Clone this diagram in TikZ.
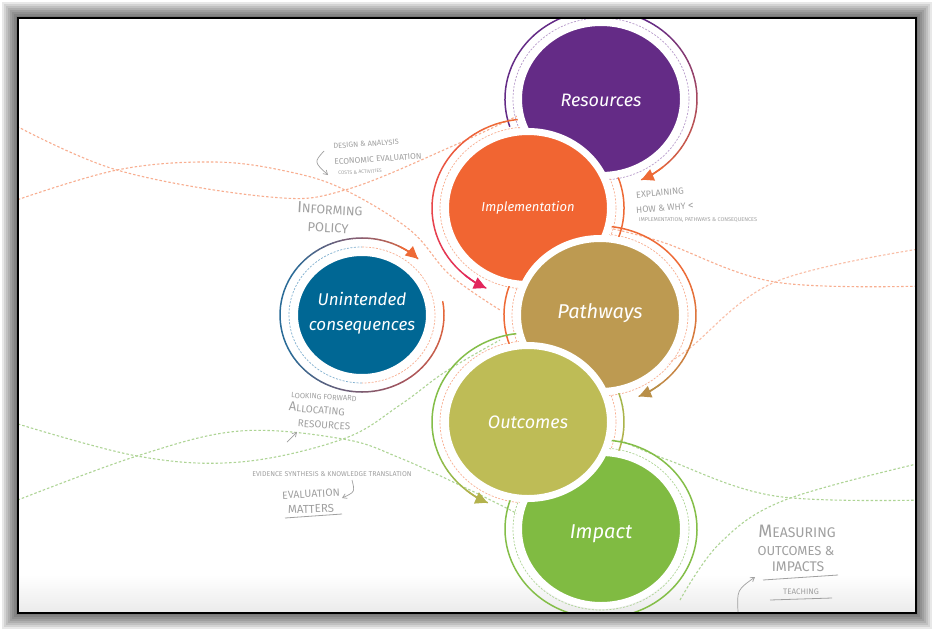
\documentclass[tikz,border=0pt]{standalone}
\usepackage{fontspec}
\setmainfont{Fira Sans}
\usetikzlibrary{arrows.meta,shapes.geometric}
\definecolor{cRes}{HTML}{642B86}
\definecolor{cImp}{HTML}{F16532}
\definecolor{cPat}{HTML}{BD9A51}
\definecolor{cOut}{HTML}{BEBC56}
\definecolor{cImpa}{HTML}{80BB42}
\definecolor{cUni}{HTML}{006794}
\definecolor{cCrim}{HTML}{E2265C}
\definecolor{cOra}{HTML}{EE6A36}
\definecolor{cTan}{HTML}{B98F48}
\definecolor{cOli}{HTML}{B3B24C}
\definecolor{cGrn}{HTML}{84BE48}
\definecolor{cBlu}{HTML}{2A6B97}
\definecolor{cRbr}{HTML}{A4545E}
\definecolor{cPbr}{HTML}{8B5C6F}
\definecolor{dOra}{HTML}{F8AE90}
\definecolor{dGrn}{HTML}{AED495}
\definecolor{dPur}{HTML}{B89BCB}
\definecolor{dBlu}{HTML}{7FAFCF}
\definecolor{note}{HTML}{A0A0A0}
\newcommand\nf[1]{\fontsize{#1}{#1}\selectfont}
% gradient arc: coord, rx, ry, start, end, col1, col2, segments
\newcommand\garc[8]{%
  \foreach \gi in {1,...,#8}{%
    \pgfmathsetmacro\ga{#4+(#5-(#4))*(\gi-1)/#8}%
    \pgfmathsetmacro\gb{#4+(#5-(#4))*\gi/#8}%
    \pgfmathtruncatemacro\gp{100*(\gi-0.5)/#8}%
    \draw[ring,#7!\gp!#6] (#1) ++(\ga:#2 and #3) arc[start angle=\ga,end angle=\gb,x radius=#2,y radius=#3];
  }}
% arrow tip on a ring: coord, rx, ry, from, to, colour
\newcommand\rtip[6]{%
  \draw[ring,#6,-{Triangle[length=12pt,width=12pt]}] (#1) ++(#4:#2 and #3) arc[start angle=#4,end angle=#5,x radius=#2,y radius=#3];}
\begin{document}
\begin{tikzpicture}[x=1pt,y=-1pt,
  ring/.style={line width=1.5pt,line cap=round},
  dring/.style={line width=0.7pt,dash pattern=on 2pt off 1.5pt},
  wave/.style={line width=1.1pt,dash pattern=on 2.5pt off 2pt},
  bub/.style={ellipse,inner sep=0pt,minimum width=165pt,minimum height=153pt,draw=white,line width=7pt},
  lbl/.style={text=white,inner sep=0pt,align=center,font=\itshape\nf{18}},
  note/.style={text=note,inner sep=0pt,align=center},
  narrow/.style={draw=note,line width=0.7pt,-{Straight Barb[length=4pt,width=5pt]}},
  nline/.style={draw=note,line width=0.8pt}]
\useasboundingbox (0,0) rectangle (934,632);
% shadow and frame
\foreach \d in {16,14,...,2} \fill[black,opacity=0.09] (18-\d,18-\d) rectangle (916+\d,613+\d);
\fill[white] (18,18) rectangle (916,613);
\shade[top color=white,bottom color=black!8] (18,575) rectangle (916,613);
\coordinate (cR) at (601,99);
\coordinate (cI) at (528,208);
\coordinate (cP) at (600,315);
\coordinate (cO) at (528,422);
\coordinate (cM) at (601,529);
\coordinate (cU) at (362,315);
\begin{scope}
\clip (18,18) rectangle (916,613);
% background waves
\draw[wave,dOra] plot[smooth,tension=0.6] coordinates {(5,120) (117,170) (270,197) (345,190) (455,145) (540,105)};
\draw[wave,dOra] plot[smooth,tension=0.6] coordinates {(5,204) (117,170) (215,162) (290,172) (345,190) (410,230) (450,275) (500,310)};
\draw[wave,dOra] plot[smooth,tension=0.6] coordinates {(600,226) (662,242) (775,282) (925,286)};
\draw[wave,dOra!80] plot[smooth,tension=0.6] coordinates {(640,380) (686,351) (775,282) (925,248)};
\draw[wave,dGrn] plot[smooth,tension=0.6] coordinates {(5,420) (137,456) (240,462) (343,439) (400,405) (445,372) (500,340)};
\draw[wave,dGrn] plot[smooth,tension=0.6] coordinates {(5,505) (137,456) (240,431) (343,439) (400,458) (470,490) (520,515)};
\draw[wave,dGrn] plot[smooth,tension=0.6] coordinates {(620,440) (668,460) (775,496) (925,500)};
\draw[wave,dGrn] plot[smooth,tension=0.6] coordinates {(680,600) (720,543) (785,500) (925,462)};
% dashed rings
\draw[dring,dPur] (cR) ellipse[x radius=88,y radius=81];
\draw[dring,dOra] (cI) ellipse[x radius=88,y radius=81];
\draw[dring,dOra] (cP) ellipse[x radius=88,y radius=81];
\draw[dring,dOra] (cO) ellipse[x radius=88,y radius=81];
\draw[dring,dGrn] (cM) ellipse[x radius=88,y radius=81];
\draw[dring,dBlu] (cU) ++(90:73 and 68) arc[start angle=90,end angle=270,x radius=73,y radius=68];
\draw[dring,dOra] (cU) ++(-90:73 and 68) arc[start angle=-90,end angle=90,x radius=73,y radius=68];
% solid rings
\garc{cR}{96}{89}{-198}{-60}{cRes}{cRes}{1}
\garc{cR}{96}{89}{-60}{65}{cRes}{cOra}{20}
\rtip{cR}{96}{89}{50}{65}{cOra}
\garc{cI}{96}{89}{20}{-110}{cOra}{cOra}{1}
\garc{cI}{96}{89}{-110}{-244}{cOra}{cCrim}{20}
\rtip{cI}{96}{89}{-229}{-244}{cCrim}
\garc{cP}{96}{89}{-205}{-30}{cOra}{cOra}{1}
\garc{cP}{96}{89}{-30}{66}{cOra}{cTan}{14}
\rtip{cP}{96}{89}{51}{66}{cTan}
\garc{cO}{96}{89}{20}{-100}{cOli}{cGrn}{8}
\garc{cO}{96}{89}{-100}{-195}{cGrn}{cGrn}{1}
\garc{cO}{96}{89}{-195}{-245}{cGrn}{cOli}{8}
\rtip{cO}{96}{89}{-230}{-245}{cOli}
\garc{cM}{96}{89}{-95}{200}{cGrn}{cGrn}{1}
\garc{cU}{82}{77}{-10}{60}{cOra}{cRbr}{10}
\garc{cU}{82}{77}{60}{150}{cRbr}{cBlu}{12}
\garc{cU}{82}{77}{150}{215}{cBlu}{cBlu}{1}
\garc{cU}{82}{77}{215}{270}{cBlu}{cPbr}{8}
\garc{cU}{82}{77}{270}{313}{cPbr}{cOra}{8}
\rtip{cU}{82}{77}{298}{313}{cOra}
% circles
\node[bub,fill=cRes] (res) at (cR) {};
\node[lbl] (resT) at (601,100) {Resources};
\node[bub,fill=cImp] (imp) at (cI) {};
\node[lbl,font=\itshape\nf{13}] (impT) at (528,208) {Implementation};
\node[bub,fill=cPat] (pat) at (cP) {};
\node[lbl,font=\itshape\nf{20}] (patT) at (600,313) {Pathways};
\node[bub,fill=cImpa] (ipa) at (cM) {};
\node[lbl,font=\itshape\nf{20}] (ipaT) at (601,534) {Impact};
\node[bub,fill=cOut] (out) at (cO) {};
\node[lbl] (outT) at (528,422) {Outcomes};
\node[bub,fill=cUni,minimum width=135pt,minimum height=125pt] (uni) at (cU) {};
\node[lbl,font=\itshape\nf{17}] (uniT) at (362,313) {Unintended\\[8pt]consequences};
\end{scope}
\draw[line width=2.5pt] (18,18) rectangle (916,613);
% notes
\node[note,rotate=4,font=\nf{7.5}] (n1) at (366,144) {DESIGN \& ANALYSIS};
\node[note,rotate=4,font=\nf{8.3}] (n2) at (378,159) {ECONOMIC EVALUATION};
\node[note,rotate=3,font=\nf{5}] (n3) at (360,172) {COSTS \& ACTIVITIES};
\coordinate (a1s) at (324,151);
\coordinate (a1e) at (328,175);
\draw[narrow] (a1s) .. controls (314,162) .. (a1e);
\node[note,rotate=-3,font=\nf{12.5}] (n4) at (330,209) {{\nf{16}I}NFORMING};
\node[note,rotate=-3,font=\nf{13}] (n5) at (328,228) {POLICY};
\node[note,rotate=5,font=\nf{9},anchor=west] (n6) at (636,195) {EXPLAINING};
\node[note,rotate=4,font=\nf{9},anchor=west] (n7) at (636,210) {HOW \& WHY {\nf{11}<}};
\node[note,font=\nf{5.5}] (n8) at (698,220) {IMPLEMENTATION, PATHWAYS \& CONSEQUENCES};
\node[note,rotate=-3,font=\nf{7.5}] (n9) at (324,397) {LOOKING FORWARD};
\node[note,rotate=-5,font=\nf{10}] (n10) at (317,409) {{\nf{13}A}LLOCATING};
\node[note,rotate=-4,font=\nf{10}] (n11) at (324,425) {RESOURCES};
\coordinate (a2s) at (287,442);
\coordinate (a2e) at (297,432);
\draw[narrow] (a2s) -- (a2e);
\node[note,font=\nf{7}] (n12) at (332,474) {EVIDENCE SYNTHESIS \& KNOWLEDGE TRANSLATION};
\node[note,rotate=3,font=\nf{10.5}] (n13) at (311,494) {EVALUATION};
\node[note,rotate=2,font=\nf{11.5}] (n14) at (311,509) {MATTERS};
\draw[nline] (285,518) -- (342,514);
\coordinate (a3s) at (352,480);
\coordinate (a3e) at (342,498);
\draw[narrow] (a3s) .. controls (355,492) .. (a3e);
\node[note,font=\nf{14}] (n15) at (797,531) {{\nf{18}M}EASURING};
\node[note,font=\nf{13}] (n16) at (796,551) {OUTCOMES \&};
\node[note,font=\nf{14}] (n17) at (798,567) {IMPACTS};
\draw[nline] (763,580) -- (838,575);
\node[note,font=\nf{8}] (n18) at (801,592) {TEACHING};
\draw[nline] (770,600) -- (832,598);
\coordinate (a4s) at (738,612);
\coordinate (a4e) at (755,577);
\draw[narrow] (a4s) .. controls (737,590) .. (a4e);
\end{tikzpicture}
\end{document}
